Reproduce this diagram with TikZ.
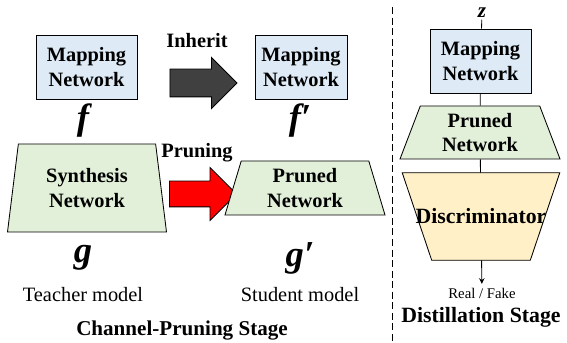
\documentclass[tikz,border=0pt]{standalone}
\usepackage{fontspec}
\setmainfont{LiberationSerif}[
  Extension=.ttf,
  UprightFont=*-Regular,
  BoldFont=*-Bold,
  ItalicFont=*-Italic,
  BoldItalicFont=*-BoldItalic]
\usetikzlibrary{positioning,shapes.geometric,shapes.arrows,arrows.meta}
\pgfdeclarelayer{bg}
\pgfsetlayers{bg,main}
\definecolor{mapblue}{HTML}{DEEBF7}
\definecolor{netgreen}{HTML}{E2F0D9}
\definecolor{discorange}{HTML}{FFF0C8}
\definecolor{darkarrow}{HTML}{404040}

\begin{document}
\begin{tikzpicture}[
    netfont/.style={font=\fontsize{14.5}{17.5}\selectfont\bfseries, align=center},
    mapbox/.style={draw, line width=0.6pt, fill=mapblue, netfont, minimum height=1.6cm, inner sep=0pt},
    trap/.style={draw, line width=0.6pt, netfont, trapezium, trapezium stretches body, inner sep=0pt},
    bigarrow/.style={single arrow, draw, line width=0.6pt, minimum height=1.675cm, inner xsep=0pt},
    funcname/.style={font=\fontsize{26}{26}\selectfont\bfseries\itshape, inner sep=0pt},
    caption/.style={font=\fontsize{14.5}{17}\selectfont, anchor=base},
    stage/.style={font=\fontsize{15}{18}\selectfont\bfseries, anchor=base},
  ]
  \useasboundingbox (0,0) rectangle (14.175,8.575);

  % teacher
  \node [mapbox, minimum width=2.525cm] (map1) at (2.1625,6.9) {Mapping\\Network};
  \node [funcname] (f1) at (2.075,5.55) {f};
  \node [trap, fill=netgreen, trapezium left angle=74.4, trapezium right angle=74.4,
    minimum width=3.975cm, minimum height=2.2cm] (syn) at (2.175,3.875) {Synthesis\\Network};
  \node [funcname] (g1) at (2.075,2.125) {g};
  \node [caption] (teacher) at (2.075,1.025) {Teacher model};

  % inherit / pruning arrows
  \node [bigarrow, fill=darkarrow, inner ysep=0.3375cm, single arrow head extend=0.29cm] (inh) at (4.9125,6.5) {};
  \node [netfont, anchor=base] (inhtxt) at (4.925,7.375) {Inherit};
  \node [bigarrow, fill=red, inner ysep=0.3125cm, single arrow head extend=0.3375cm] (prn) at (4.9125,3.725) {};
  \node [netfont, anchor=base] (prntxt) at (4.925,4.625) {Pruning};

  % student
  \node [mapbox, minimum width=2.3cm] (map2) at (7.525,6.9) {Mapping\\Network};
  \node [funcname] (f2) at (7.5,5.55) {f′};
  \node [trap, fill=netgreen, trapezium left angle=67.4, trapezium right angle=67.4,
    minimum width=4cm, minimum height=1.35cm] (pr2) at (7.625,3.875) {Pruned\\Network};
  \node [funcname] (g2) at (7.5,2.125) {g′};
  \node [caption] (student) at (7.5,1.025) {Student model};

  \node [stage] (cps) at (4.55,0.2) {Channel-Pruning Stage};

  % stage divider
  \draw [line width=0.6pt, dash pattern=on 5pt off 2.5pt] (9.8,8.4) -- (9.8,0);

  % distillation
  \node [font=\fontsize{15}{15}\selectfont\bfseries\itshape, inner sep=1pt] (z) at (12.05,8.25) {z};
  \node [mapbox, minimum width=2.525cm] (map3) at (12.0125,7.05) {Mapping\\Network};
  \node [trap, fill=netgreen, trapezium left angle=62.5, trapezium right angle=62.5,
    minimum width=4cm, minimum height=1.325cm] (pr3) at (12.0,5.2625) {Pruned\\Network};
  \node [font=\fontsize{15.5}{18}\selectfont\bfseries, minimum width=3.925cm, minimum height=2.175cm,
    inner sep=0pt] (disc) at (12.025,3.1625) {Discriminator};
  \begin{pgfonlayer}{bg}    % discriminator outline goes under its label
    \draw [line width=0.6pt, fill=discorange] (disc.north west) -- (disc.north east)
      -- ([xshift=-0.7375cm]disc.south east) -- ([xshift=0.7375cm]disc.south west) -- cycle;
  \end{pgfonlayer}
  \node [font=\fontsize{10.5}{12}\selectfont, anchor=base] (rf) at (12.05,1.1) {Real / Fake};
  \node [stage, font=\fontsize{15.5}{18}\selectfont\bfseries] (dst) at (12.025,0.5) {Distillation Stage};

  \draw [line width=0.6pt] (z) -- (map3);
  \draw [line width=0.6pt] (map3) -- (pr3);
  \draw [line width=0.6pt] (pr3) -- (disc);
  \draw [line width=0.6pt, -{Stealth[length=4pt,width=4pt]}] (disc) -- (rf);
\end{tikzpicture}
\end{document}
